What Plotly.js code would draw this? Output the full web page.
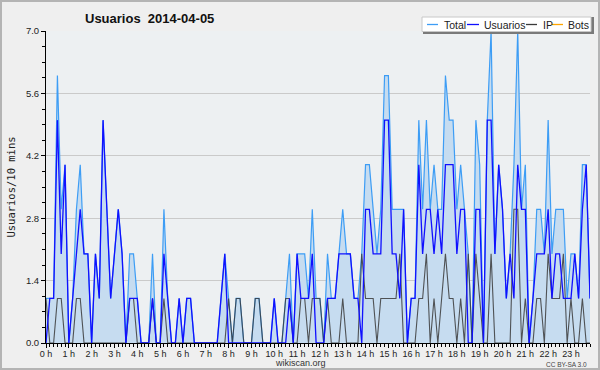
<!DOCTYPE html>
<html>
<head>
<meta charset="utf-8">
<script src="https://cdn.plot.ly/plotly-3.0.1.min.js"></script>
<style>
html,body{margin:0;padding:0;background:#efefef;}
#wrap{position:relative;width:600px;height:370px;}
#chart{width:600px;height:370px;}
#frame{position:absolute;left:0;top:0;width:600px;height:370px;box-sizing:border-box;border:2px solid #b4b4b4;pointer-events:none;}
</style>
</head>
<body>
<div id="wrap"><div id="chart"></div><div id="frame"></div></div>
<script>
// 10-minute slots of 2014-04-05 (00:00 .. 23:50)
const slotsPerHour = 6;
const total = [
 1,1,1,6,3,4,0,1,3,4, 2,2,0,2,1,5,3,1,2,3,
 2,0,2,2,1,0,0,0,2,0, 0,3,1,0,0,1,0,1,1,0,
 0,0,0,0,0,0,1,2,1,0, 1,1,0,0,0,1,1,0,0,0,
 1,0,0,1,2,0,2,2,2,1, 3,1,1,0,2,1,1,2,3,2,
 2,1,1,2,4,4,3,2,3,6, 6,3,3,3,3,0,1,1,5,3,
 5,3,4,3,3,6,5,5,3,4, 3,2,0,5,4,0,5,7,2,4,
 3,1,2,4,7,3,4,0,1,3, 3,2,5,2,3,3,3,1,2,2,
 1,4,4,1
];
const usuarios = [
 0,1,1,5,2,4,0,1,2,3, 2,2,0,2,1,5,3,1,2,3,
 2,0,1,1,1,0,0,0,1,0, 0,2,1,0,0,1,0,1,1,0,
 0,0,0,0,0,0,1,2,0,0, 0,0,0,0,0,0,0,0,0,0,
 1,0,0,0,1,0,2,1,1,1, 2,0,0,0,1,1,1,2,2,2,
 2,1,1,0,3,3,2,2,2,5, 5,2,2,1,3,0,1,1,4,2,
 3,3,2,3,2,4,4,4,2,3, 3,0,0,3,3,0,5,5,2,4,
 3,1,2,1,4,3,3,0,1,2, 2,2,3,1,2,2,1,1,1,2,
 1,3,4,1
];
const ip = [
 1,0,0,1,1,0,0,0,1,1, 0,0,0,0,0,0,0,0,0,0,
 0,0,1,1,0,0,0,0,1,0, 0,1,0,0,0,0,0,0,0,0,
 0,0,0,0,0,0,0,0,1,0, 1,1,0,0,0,1,1,0,0,0,
 0,0,0,1,1,0,0,1,1,0, 1,1,1,0,1,0,0,0,1,0,
 0,0,0,2,1,1,1,0,1,1, 1,1,1,2,0,0,0,0,1,1,
 2,0,1,0,1,2,1,1,0,1, 0,2,0,2,1,0,0,2,0,0,
 0,0,0,3,3,0,1,0,0,1, 1,0,2,1,1,1,2,0,1,0,
 0,1,0,0
];
const bots = [
 0,0,0,0,0,0,0,0,0,0, 0,0,0,0,0,0,0,0,0,0,
 0,0,0,0,0,0,0,0,0,0, 0,0,0,0,0,0,0,0,0,0,
 0,0,0,0,0,0,0,0,0,0, 0,0,0,0,0,0,0,0,0,0,
 0,0,0,0,0,0,0,0,0,0, 0,0,0,0,0,0,0,0,0,0,
 0,0,0,0,0,0,0,0,0,0, 0,0,0,0,0,0,0,0,0,0,
 0,0,0,0,0,0,0,0,0,0, 0,0,0,0,0,0,0,0,0,0,
 0,0,0,0,0,0,0,0,0,0, 0,0,0,0,0,0,0,0,0,0,
 0,0,0,0
];
const hourTicks = [0,1,2,3,4,5,6,7,8,9,10,11,12,13,14,15,16,17,18,19,20,21,22,23];
const hourLabels = hourTicks.map(h => h + ' h');
const yTicks = [0, 1.4, 2.8, 4.2, 5.6, 7.0];
const yLabels = ['0.0','1.4','2.8','4.2','5.6','7.0'];
const seriesNames = ['Total','Usuarios','IP','Bots'];
const seriesColors = ['#3d9df5','#1010ff','#3a3a3a','#ffa500'];

const hours = total.map((_, i) => i / slotsPerHour);

const traces = [
  {x: hours, y: bots, type:'scatter', mode:'lines', name: seriesNames[3],
   line:{color: seriesColors[3], width:1}},
  {x: hours, y: total, type:'scatter', mode:'lines', name: seriesNames[0],
   fill:'tozeroy', fillcolor:'#c6dcf0', line:{color: seriesColors[0], width:1.2}},
  {x: hours, y: ip, type:'scatter', mode:'lines', name: seriesNames[2],
   line:{color: seriesColors[2], width:1.1}, opacity:0.85},
  {x: hours, y: usuarios, type:'scatter', mode:'lines', name: seriesNames[1],
   line:{color: seriesColors[1], width:1.3}}
];

// plot area in pixels: x 46..590, y 31..343
const L = 46, R = 590, T = 31, B = 343;
const px = v => (v - L) / (R - L);
const py = v => (B - v) / (B - T);

const shapes = [
  {type:'rect', xref:'paper', yref:'paper', x0:px(423), x1:px(594), y0:py(17), y1:py(34),
   fillcolor:'#7a7a7a', line:{width:0}, layer:'above'},
  {type:'rect', xref:'paper', yref:'paper', x0:px(422), x1:px(591), y0:py(17), y1:py(31.5),
   fillcolor:'#ffffff', line:{color:'#c8c8c8', width:1}, layer:'above'}
];
const legendItems = [
  {l0:427, l1:438, tx:442, name: seriesNames[0], c: seriesColors[0]},
  {l0:467, l1:479, tx:482, name: seriesNames[1], c: seriesColors[1]},
  {l0:526, l1:537, tx:541, name: seriesNames[2], c: seriesColors[2]},
  {l0:552, l1:563, tx:566, name: seriesNames[3], c: seriesColors[3]}
];
const annotations = [];
legendItems.forEach(it => {
  shapes.push({type:'line', xref:'paper', yref:'paper', x0:px(it.l0), x1:px(it.l1),
    y0:py(24.5), y1:py(24.5), line:{color:it.c, width:1.3}, layer:'above'});
  annotations.push({xref:'paper', yref:'paper', x:px(it.tx), y:py(24.5), xanchor:'left', yanchor:'middle',
    text: it.name, showarrow:false, font:{family:'Liberation Sans', size:10.5, color:'#222'}});
});
annotations.push({xref:'paper', yref:'paper', x:px(300), y:py(363), xanchor:'center', yanchor:'middle',
  text:'wikiscan.org', showarrow:false, font:{family:'Liberation Sans', size:9, color:'#333'}});
annotations.push({xref:'paper', yref:'paper', x:px(589), y:py(364), xanchor:'right', yanchor:'middle',
  text:'CC BY-SA 3.0', showarrow:false, font:{family:'Liberation Sans', size:6.5, color:'#444'}});

const layout = {
  width:600, height:370,
  margin:{l:L, r:600-R, t:T, b:370-B},
  paper_bgcolor:'#efefef', plot_bgcolor:'#edf0f2',
  showlegend:false,
  title:{text:'Usuarios\u00a0\u00a02014-04-05', xref:'container', yref:'container', x:85/600, xanchor:'left',
    y:1-18/370, yanchor:'middle', font:{family:'Liberation Sans', size:13, color:'#111', weight:'bold'}},
  xaxis:{range:[0, 143/slotsPerHour], tickvals:hourTicks, ticktext:hourLabels,
    showgrid:false, zeroline:false, showline:true, linecolor:'#000', linewidth:1,
    ticks:'outside', ticklen:4, tickcolor:'#000', tickwidth:1, ticklabelstandoff:-2,
    tickfont:{family:'Liberation Sans', size:9, color:'#222'},
    minor:{dtick:1/slotsPerHour, tick0:0, ticks:'outside', ticklen:3, tickcolor:'#000', showgrid:false}},
  yaxis:{range:[0,7], tickvals:yTicks, ticktext:yLabels,
    showgrid:true, gridcolor:'#cacaca', gridwidth:1, zeroline:false,
    showline:true, linecolor:'#000', linewidth:1,
    ticks:'outside', ticklen:4, tickcolor:'#000', tickwidth:1,
    tickfont:{family:'Liberation Sans', size:9.5, color:'#222'},
    minor:{dtick:0.35, tick0:0, ticks:'outside', ticklen:3, tickcolor:'#000', showgrid:false},
    title:{text:'Usuarios/10 mins', standoff:8, font:{family:'DejaVu Sans Mono', size:10.5, color:'#222'}}},
  shapes: shapes,
  annotations: annotations
};

Plotly.newPlot('chart', traces, layout, {staticPlot:true, displayModeBar:false});
</script>
</body>
</html>
